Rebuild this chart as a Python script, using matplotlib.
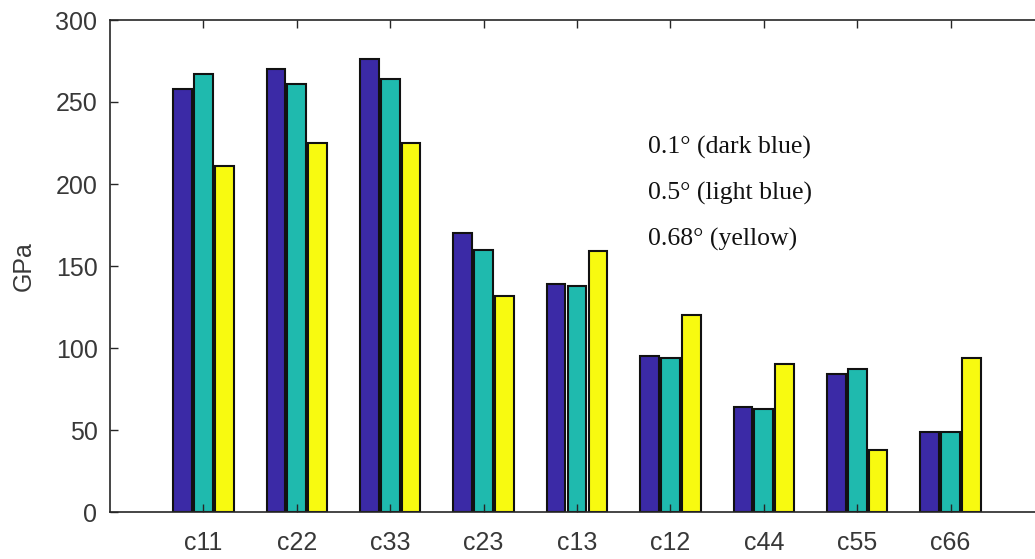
import numpy as np
import matplotlib
matplotlib.use("Agg")
import matplotlib.pyplot as plt

# Elastic constants (GPa) for three misorientation angles
components = ["c11", "c22", "c33", "c23", "c13", "c12", "c44", "c55", "c66"]
angle_01 = [258, 270, 276, 170, 139, 95, 64, 84, 49]
angle_05 = [267, 261, 264, 160, 138, 94, 63, 87, 49]
angle_068 = [211, 225, 225, 132, 159, 120, 90, 38, 94]
legend_lines = ["0.1\u00b0 (dark blue)", "0.5\u00b0 (light blue)", "0.68\u00b0 (yellow)"]
y_ticks = [0, 50, 100, 150, 200, 250, 300]

colors = ["#3B2AA6", "#1FBAAE", "#F8FA10"]
series = [angle_01, angle_05, angle_068]

fig = plt.figure(figsize=(10.35, 5.59), dpi=100)
ax = fig.add_axes([110 / 1035, 47 / 559, 934 / 1035, 492 / 559])

x = np.arange(1, len(components) + 1)
offset = 0.224
width = 0.2
for i, (vals, col) in enumerate(zip(series, colors)):
    ax.bar(x + (i - 1) * offset, vals, width=width, color=col,
           edgecolor="#111111", linewidth=1.5, zorder=1)

ax.set_xlim(0, 10)
ax.set_ylim(0, 300)
ax.set_xticks(x)
ax.set_xticklabels(components)
ax.set_yticks(y_ticks)

for lab in ax.get_xticklabels() + ax.get_yticklabels():
    lab.set_fontfamily("Liberation Sans")
    lab.set_fontsize(18)
    lab.set_color("#383838")

ax.tick_params(axis="both", direction="in", length=6, width=1.0,
               color="#262626", top=True, right=True)
ax.tick_params(axis="x", pad=14)
ax.tick_params(axis="y", pad=9)
for sp in ax.spines.values():
    sp.set_linewidth(1.2)
    sp.set_color("#262626")

ax.set_ylabel("GPa", fontfamily="Liberation Sans", fontsize=18,
              color="#383838", labelpad=14)

for txt, yv in zip(legend_lines, [222, 194, 166]):
    ax.text(5.76, yv, txt, fontfamily="Liberation Serif", fontsize=18.5,
            color="#111111", va="center", ha="left")

fig.savefig("out.png", dpi=100)
